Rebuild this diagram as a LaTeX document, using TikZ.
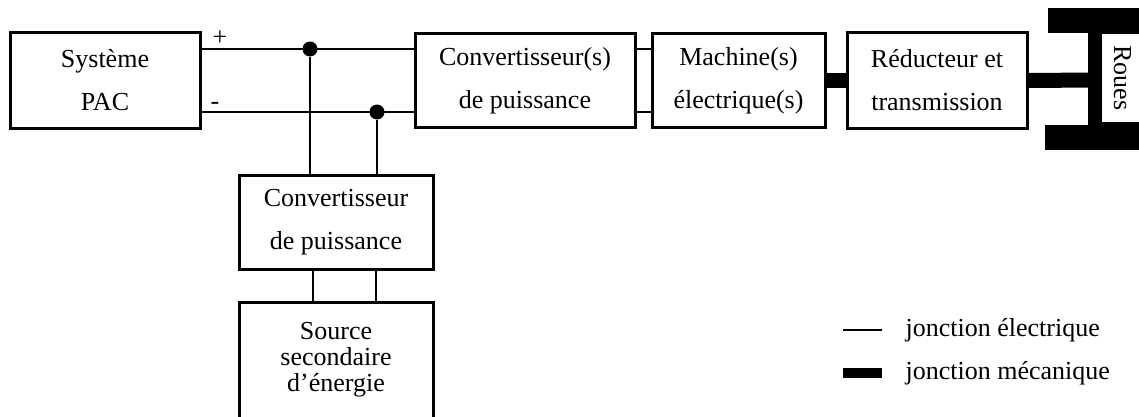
\documentclass[tikz,border=0pt]{standalone}
\usepackage{fontspec}
\setmainfont{Liberation Serif}
\begin{document}
\begin{tikzpicture}[x=1pt,y=1pt]
  \useasboundingbox (0,0) rectangle (1139,416);

  \begin{scope}[every node/.style={draw, line width=3pt, align=center, inner sep=0pt, font=\fontsize{26}{43}\selectfont}]
    \node[minimum width=190pt, minimum height=95pt] (pac)   at (105,335.5)   {Système\\PAC};
    \node[minimum width=220pt, minimum height=93pt] (conv)  at (525,335.5)   {Convertisseur(s)\\de puissance};
    \node[minimum width=173pt, minimum height=93pt] (mach)  at (738.5,335.5) {Machine(s)\\électrique(s)};
    \node[minimum width=180pt, minimum height=95pt] (red)   at (937,335.5)   {Réducteur et\\transmission};
    \node[minimum width=194pt, minimum height=94pt] (convb) at (336,194)     {Convertisseur\\de puissance};
    \node[minimum width=194pt, minimum height=116pt,
          font=\fontsize{26}{26}\selectfont]         (src)   at (336,56)      {Source\\secondaire\\d’énergie};
    \node[minimum width=90pt, minimum height=45pt, rotate=-90] (roues) at (1122.5,338) {Roues};
  \end{scope}

  % roues
  \fill (1048,383) rectangle (1145,408);
  \fill (1088,291) rectangle (1100,383);
  \fill (1045,266) rectangle (1145,291);
  \coordinate (axe) at (1094,336);

  \begin{scope}[every node/.style={circle, fill, inner sep=0pt, minimum size=15pt}]
    \node (jp) at (310,367) {};
    \node (jm) at (377,304) {};
  \end{scope}
  \coordinate (g) at (313,0);
  \coordinate (d) at (376,0);

  \begin{scope}[every edge/.style={draw, line width=2pt}]
    \path (pac.east |- jp)  edge (conv.west |- jp);
    \path (pac.east |- jm)  edge (conv.west |- jm);
    \path (conv.east |- jp) edge (mach.west |- jp);
    \path (conv.east |- jm) edge (mach.west |- jm);
    \path (jp) edge (jp |- convb.north);
    \path (jm) edge (jm |- convb.north);
    \path (convb.south -| g) edge (src.north -| g);
    \path (convb.south -| d) edge (src.north -| d);
  \end{scope}

  \begin{scope}[every edge/.style={draw, line width=15pt}]
    \path (mach.east) edge (red.west);
    \path (red.east)  edge (axe);
  \end{scope}

  \begin{scope}[every node/.style={font=\fontsize{26}{30}\selectfont}]
    \node (plus)  at (220,378) {+};
    \node (moins) at (215,310) {-};
    \node[anchor=west] (t1) at (902,86) {jonction électrique};
    \node[anchor=west] (t2) at (902,43) {jonction mécanique};
  \end{scope}

  % legende
  \coordinate (e1) at (843,86);
  \coordinate (e2) at (882,86);
  \coordinate (m1) at (843,43);
  \coordinate (m2) at (882,43);
  \draw[line width=2.5pt] (e1) -- (e2);
  \draw[line width=10pt] (m1) -- (m2);

\end{tikzpicture}
\end{document}
